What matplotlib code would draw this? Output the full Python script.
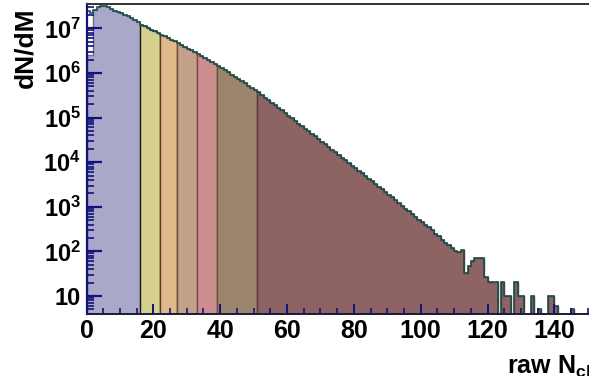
import numpy as np
import matplotlib
matplotlib.use("Agg")
import matplotlib.pyplot as plt
from matplotlib.ticker import MultipleLocator, LogLocator, FixedLocator, NullFormatter

plt.rcParams['font.family'] = ['Liberation Sans', 'DejaVu Sans']
plt.rcParams['font.weight'] = 'bold'
plt.rcParams['mathtext.fontset'] = 'custom'
plt.rcParams['mathtext.rm'] = 'Liberation Sans:bold'
plt.rcParams['mathtext.it'] = 'Liberation Sans:bold'
plt.rcParams['mathtext.bf'] = 'Liberation Sans:bold'
plt.rcParams['mathtext.default'] = 'bf'

# raw multiplicity distribution, one value per unit bin (0..149)
counts = [
    2.5e7, 2.2e7, 2.6e7, 2.95e7, 3.1e7, 3.1e7, 2.95e7, 2.75e7, 2.5e7, 2.35e7,
    2.2e7, 2.0e7, 1.86e7, 1.7e7, 1.55e7, 1.38e7, 1.2e7, 1.11e7, 1.02e7, 9.3e6,
    8.6e6, 7.9e6, 7.2e6, 6.6e6, 6.0e6, 5.6e6, 5.1e6, 4.6e6, 4.2e6, 3.85e6,
    3.5e6, 3.2e6, 2.9e6, 2.6e6, 2.37e6, 2.14e6, 1.95e6, 1.76e6, 1.58e6, 1.43e6,
    1.29e6, 1.15e6, 1.04e6, 9.2e5, 8.3e5, 7.4e5, 6.6e5, 5.9e5, 5.2e5, 4.7e5,
    4.2e5, 3.7e5, 3.2e5, 2.8e5, 2.5e5, 2.16e5, 1.9e5, 1.66e5, 1.45e5, 1.26e5,
    1.1e5, 9.7e4, 8.4e4, 7.3e4, 6.5e4, 5.6e4, 4.9e4, 4.3e4, 3.8e4, 3.3e4,
    2.85e4, 2.5e4, 2.2e4, 1.9e4, 1.66e4, 1.45e4, 1.27e4, 1.11e4, 9.7e3, 8.4e3,
    7.4e3, 6.5e3, 5.6e3, 4.9e3, 4.3e3, 3.7e3, 3.2e3, 2.8e3, 2.45e3, 2.15e3,
    1.86e3, 1.62e3, 1.41e3, 1.22e3, 1.05e3, 910, 790, 690, 590, 510,
    450, 390, 345, 295, 250, 220, 178, 155, 138, 117,
    100, 98, 105, 32, 46, 60, 70, 72, 72, 27,
    21, 21, 21, 0, 21, 10, 10, 0, 21, 10,
    10, 0, 0, 10, 0, 5, 0, 0, 10, 10,
    6, 0, 0, 0, 0, 5, 0, 0, 0, 0,
]
# the lowest bins are only partly inside the first class
first_bins_class = [2.5e6, 2.5e6]

class_edges = [0, 16, 22, 27, 33, 39, 51, 150]
class_colors = ['#aaa8c8', '#d6d08e', '#e2b98b', '#c3a088', '#cb8d8e', '#9b856c', '#8d6363']
class_lines = ['#6e6c8c', '#1a1a1a', '#5a3f2a', '#6a4a3a', '#7a4a4a', '#6a5030', '#5a3a3a']

xticks = [0, 20, 40, 60, 80, 100, 120, 140]

counts = np.array(counts, dtype=float)
edges = np.arange(len(counts) + 1)
shown = np.where(counts > 0, counts, 0.1)
filled = shown.copy()
filled[:2] = first_bins_class

fig = plt.figure(figsize=(5.89, 3.76), dpi=100)
ax = fig.add_axes([86.5 / 589, 62.5 / 376, 508 / 589, 309.5 / 376])

for i in range(len(class_edges) - 1):
    lo, hi = class_edges[i], class_edges[i + 1]
    ax.stairs(filled[lo:hi], edges[lo:hi + 1], baseline=0.1, fill=True,
              facecolor=class_colors[i], edgecolor=class_lines[i], linewidth=1.0)

ax.stairs(shown, edges, baseline=None, fill=False, edgecolor='#1f4f4a', linewidth=1.2)

ax.set_yscale('log')
ax.set_xlim(0, 152)
ax.set_ylim(4.05, 3.52e7)

tick_blue = '#12127a'
ax.yaxis.set_major_locator(FixedLocator([10, 1e2, 1e3, 1e4, 1e5, 1e6, 1e7]))
ax.set_yticklabels(['10', '$10^{2}$', '$10^{3}$', '$10^{4}$', '$10^{5}$', '$10^{6}$', '$10^{7}$'])
ax.yaxis.set_minor_locator(LogLocator(base=10, subs=np.arange(2, 10), numticks=20))
ax.yaxis.set_minor_formatter(NullFormatter())
ax.tick_params(axis='y', which='major', direction='in', length=11, width=1.6,
               color=tick_blue, labelsize=17, pad=4)
ax.tick_params(axis='y', which='minor', direction='in', length=5, width=1.2, color=tick_blue)

ax.set_xticks(xticks)
ax.xaxis.set_minor_locator(MultipleLocator(5))
ax.tick_params(axis='x', which='major', direction='in', length=7, width=1.4,
               color=tick_blue, labelsize=18, pad=4)
ax.tick_params(axis='x', which='minor', direction='in', length=4, width=1.2, color=tick_blue)

ax.spines['left'].set_color(tick_blue)
ax.spines['left'].set_linewidth(1.6)
ax.spines['bottom'].set_color('#1a1a3a')
ax.spines['bottom'].set_linewidth(1.4)
ax.spines['top'].set_color('#333333')
ax.spines['top'].set_linewidth(1.4)

fig.text(25 / 589, 1 - 8 / 376, 'dN/dM', rotation=90, ha='center', va='top',
         fontsize=19, fontweight='bold')
fig.text(507 / 589, 2 / 376, 'raw N$_{ch}$', ha='left', va='baseline',
         fontsize=18, fontweight='bold')

fig.savefig('out.png', dpi=100)
